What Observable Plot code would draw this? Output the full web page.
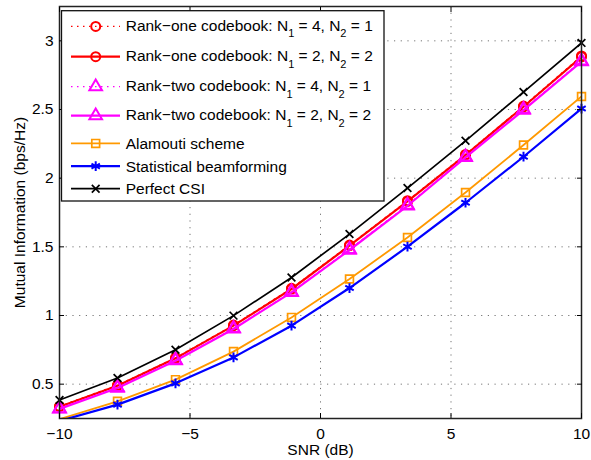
<!DOCTYPE html>
<html><head><meta charset="utf-8">
<script src="https://cdn.jsdelivr.net/npm/d3@7"></script>
<script src="https://cdn.jsdelivr.net/npm/@observablehq/plot@0.6"></script>
<style>
html,body{margin:0;padding:0;background:#fff;}
#chart{width:591px;height:460px;}
svg{font-family:"Liberation Sans",Arial,Helvetica,sans-serif;}
</style></head><body><div id="chart"></div>
<script>
// ---- data ----
const snr = [-10, -7.778, -5.556, -3.333, -1.111, 1.111, 3.333, 5.556, 7.778, 10];
const rankOneN41 = [0.339, 0.493, 0.692, 0.930, 1.198, 1.513, 1.836, 2.173, 2.525, 2.890];
const rankOneN22 = [0.336, 0.489, 0.688, 0.926, 1.193, 1.508, 1.831, 2.168, 2.520, 2.884];
const rankTwoN41 = [0.323, 0.476, 0.675, 0.906, 1.172, 1.482, 1.804, 2.156, 2.501, 2.854];
const rankTwoN22 = [0.320, 0.472, 0.671, 0.902, 1.168, 1.477, 1.799, 2.151, 2.496, 2.849];
const alamouti   = [0.245, 0.375, 0.533, 0.737, 0.986, 1.266, 1.568, 1.896, 2.241, 2.595];
const statBF     = [0.232, 0.351, 0.506, 0.695, 0.926, 1.200, 1.501, 1.821, 2.156, 2.507];
const perfectCSI = [0.385, 0.545, 0.751, 0.999, 1.277, 1.593, 1.928, 2.272, 2.627, 2.985];
const seriesNames = [
  "Rank−one codebook: N_1 = 4, N_2 = 1",
  "Rank−one codebook: N_1 = 2, N_2 = 2",
  "Rank−two codebook: N_1 = 4, N_2 = 1",
  "Rank−two codebook: N_1 = 2, N_2 = 2",
  "Alamouti scheme",
  "Statistical beamforming",
  "Perfect CSI"
];
const seriesValues = [rankOneN41, rankOneN22, rankTwoN41, rankTwoN22, alamouti, statBF, perfectCSI];
const xTicks = [-10, -5, 0, 5, 10];
const yTicks = [0.5, 1, 1.5, 2, 2.5, 3];
const xLabel = "SNR (dB)";
const yLabel = "Mutual Information (bps/Hz)";

// ---- styles ----
const styles = [
  {color: "#ff0000", dash: "1.5,4.5", lw: 1.2, symbol: "circle", r: 4.5, sw: 2},
  {color: "#ff0000", dash: null, lw: 2.2, symbol: "circle", r: 4.5, sw: 2},
  {color: "#ff00ff", dash: "1.5,4.5", lw: 1.2, symbol: "triangle", r: 4.7, sw: 2},
  {color: "#ff00ff", dash: null, lw: 2.2, symbol: "triangle", r: 4.7, sw: 2},
  {color: "#ff9900", dash: null, lw: 1.8, symbol: "square", r: 4.4, sw: 1.7},
  {color: "#0000ff", dash: null, lw: 2.2, symbol: "asterisk", r: 4.6, sw: 2},
  {color: "#000000", dash: null, lw: 1.7, symbol: "times", r: 3.6, sw: 1.7}
];

const yDomain = [0.25, 3.25];
const rows = seriesValues.map((vals, s) => vals.map((v, i) => ({s, snr: snr[i], mi: v})));
const fmt = d => d < 0 ? "\u2212" + (-d) : String(d);

const marks = [
  Plot.gridX(xTicks, {stroke: "#000", strokeOpacity: 0.55, strokeDasharray: "1.2,5.5", strokeWidth: 1}),
  Plot.gridY(yTicks, {stroke: "#000", strokeOpacity: 0.55, strokeDasharray: "1.2,5.5", strokeWidth: 1})
];
rows.forEach((data, s) => {
  const st = styles[s];
  marks.push(Plot.line(data, {x: "snr", y: "mi", stroke: st.color, strokeWidth: st.lw, strokeDasharray: st.dash, clip: true}));
  marks.push(Plot.dot(data.filter(d => d.mi >= yDomain[0]), {x: "snr", y: "mi", symbol: () => st.symbol, r: st.r, stroke: st.color, fill: "none", strokeWidth: st.sw}));
});
marks.push(
  Plot.frame({stroke: "#222", strokeWidth: 1.5}),
  Plot.axisX(xTicks, {anchor: "bottom", tickSize: -5, tickFormat: fmt, label: xLabel, labelAnchor: "center", labelOffset: 36, labelArrow: "none", fontSize: 15.5}),
  Plot.axisX(xTicks, {anchor: "top", tickSize: -5, tickFormat: () => "", label: null}),
  Plot.axisY(yTicks, {anchor: "left", tickSize: -5, tickPadding: 11, tickFormat: fmt, label: yLabel, labelAnchor: "center", labelOffset: 46, labelArrow: "none", fontSize: 15.5}),
  Plot.axisY(yTicks, {anchor: "right", tickSize: -5, tickFormat: () => "", label: null})
);

const chart = Plot.plot({
  width: 591, height: 460,
  marginLeft: 59, marginRight: 10, marginTop: 6, marginBottom: 42,
  style: {fontFamily: "'Liberation Sans', Arial, Helvetica, sans-serif", fontSize: "15.5px", background: "white", color: "black", overflow: "visible"},
  x: {domain: [-10, 10]},
  y: {domain: yDomain},
  marks
});
document.getElementById("chart").appendChild(chart);

// ---- legend (drawn inside the plot frame) ----
const L = {x0: 61.5, y0: 10.7, x1: 384, y1: 201, lineX0: 71, lineX1: 120, markX: 95.7, textX: 125.7,
  baselines: [30.7, 61, 91, 120, 149, 171.7, 194.3]};
const svg = d3.select(chart);
const g = svg.append("g").attr("class", "legend").attr("text-anchor", "start");
g.append("rect").attr("x", L.x0).attr("y", L.y0).attr("width", L.x1 - L.x0).attr("height", L.y1 - L.y0)
  .attr("fill", "white").attr("stroke", "#111").attr("stroke-width", 1.3);
const symMap = {circle: d3.symbolCircle, triangle: d3.symbolTriangle, square: d3.symbolSquare, asterisk: d3.symbolAsterisk, times: d3.symbolTimes};
seriesNames.forEach((name, i) => {
  const st = styles[i];
  const b = L.baselines[i];
  const my = b - (name.includes("_") ? 4.3 : 5.6);
  g.append("line").attr("x1", L.lineX0).attr("x2", L.lineX1).attr("y1", my).attr("y2", my)
    .attr("stroke", st.color).attr("stroke-width", st.lw).attr("stroke-dasharray", st.dash);
  g.append("path").attr("d", d3.symbol(symMap[st.symbol], Math.PI * st.r * st.r)())
    .attr("transform", `translate(${L.markX},${my})`).attr("fill", "none").attr("stroke", st.color).attr("stroke-width", st.sw);
  const t = g.append("text").attr("x", L.textX).attr("y", b).attr("font-size", 15.5).attr("fill", "black")
    .attr("text-anchor", "start");
  const parts = name.split(/_(\d)/);
  parts.forEach((p, k) => {
    if (k % 2 === 1) {
      t.append("tspan").attr("dy", 6.5).attr("font-size", 11).text(p);
    } else if (p) {
      t.append("tspan").attr("dy", k > 0 ? -6.5 : 0).text(p);
    }
  });
});
</script>
</body></html>
